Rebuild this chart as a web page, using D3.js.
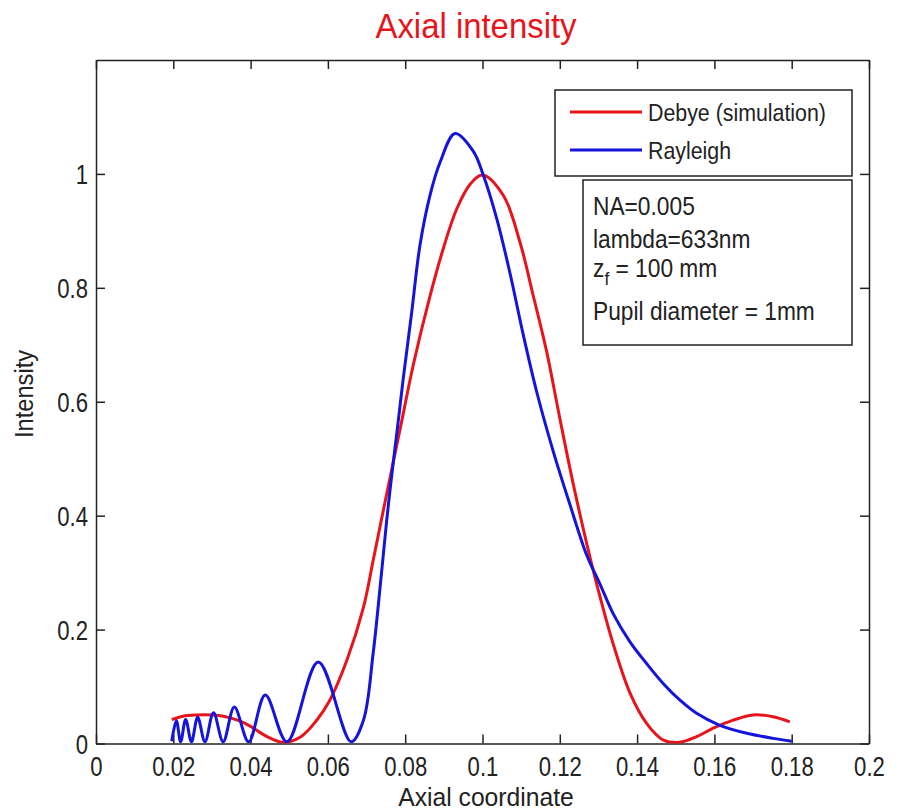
<!DOCTYPE html>
<html>
<head>
<meta charset="utf-8">
<script src="https://cdn.jsdelivr.net/npm/d3@7"></script>
<style>
  body { margin: 0; background: #fff; }
  text { font-family: "Liberation Sans", Arial, sans-serif; fill: #222; }
</style>
</head>
<body>
<div id="chart"></div>
<script>
// values
var debyeX = [0.0196, 0.0225, 0.0260, 0.0300, 0.0330, 0.0370, 0.0400, 0.0440, 0.0484, 0.0530,
  0.0570, 0.0605, 0.0649, 0.0692, 0.0717, 0.0743, 0.0791, 0.0821, 0.0864, 0.0899,
  0.0933, 0.0968, 0.1000, 0.1054, 0.1097, 0.1131, 0.1166, 0.1200, 0.1235, 0.1270,
  0.1300, 0.1338, 0.1382, 0.1425, 0.1468, 0.1510, 0.1554, 0.1597, 0.1649, 0.1700,
  0.1752, 0.1795];
var debyeY = [0.042, 0.048, 0.050, 0.050, 0.048, 0.040, 0.030, 0.013, 0.002, 0.012,
  0.040, 0.076, 0.146, 0.239, 0.321, 0.408, 0.566, 0.665, 0.785, 0.870,
  0.938, 0.982, 0.998, 0.962, 0.880, 0.787, 0.688, 0.571, 0.455, 0.350,
  0.268, 0.175, 0.088, 0.035, 0.006, 0.002, 0.012, 0.027, 0.041, 0.050,
  0.047, 0.038];

var rayleighX = [0.0196, 0.0208, 0.0219, 0.0232, 0.0247, 0.0263, 0.0282, 0.0304, 0.0329, 0.0358,
  0.0395, 0.0438, 0.0494, 0.0575, 0.0660, 0.0692, 0.0717, 0.0735, 0.0752, 0.0765,
  0.0782, 0.0795, 0.0817, 0.0838, 0.0864, 0.0890, 0.0929, 0.0976, 0.1002, 0.1037,
  0.1071, 0.1106, 0.1140, 0.1183, 0.1226, 0.1270, 0.1304, 0.1338, 0.1382, 0.1425,
  0.1468, 0.1511, 0.1554, 0.1614, 0.1684, 0.1752, 0.1800];
var rayleighY = [0.004, 0.040, 0.003, 0.042, 0.003, 0.046, 0.003, 0.054, 0.003, 0.064,
  0.003, 0.085, 0.003, 0.143, 0.003, 0.041, 0.158, 0.274, 0.391, 0.470,
  0.566, 0.641, 0.758, 0.874, 0.962, 1.020, 1.071, 1.040, 0.998, 0.921,
  0.826, 0.716, 0.618, 0.513, 0.420, 0.330, 0.280, 0.228, 0.178, 0.140,
  0.105, 0.076, 0.053, 0.032, 0.018, 0.009, 0.004];

var xTicks = [0, 0.02, 0.04, 0.06, 0.08, 0.1, 0.12, 0.14, 0.16, 0.18, 0.2];
var xTickLabels = ["0", "0.02", "0.04", "0.06", "0.08", "0.1", "0.12", "0.14", "0.16", "0.18", "0.2"];
var yTicks = [0, 0.2, 0.4, 0.6, 0.8, 1];
var yTickLabels = ["0", "0.2", "0.4", "0.6", "0.8", "1"];

var seriesNames = ["Debye (simulation)", "Rayleigh"];
var seriesColors = ["#e8141c", "#1414dc"];
var noteLines = ["NA=0.005", "lambda=633nm", "z_f = 100 mm", "Pupil diameter = 1mm"];

// dimensions
var W = 899, H = 812;
var margin = {top: 60, right: 30, bottom: 68.5, left: 96},
  width = W - margin.left - margin.right,
  height = H - margin.top - margin.bottom;

var svg = d3.select("#chart").append("svg")
  .attr("width", W)
  .attr("height", H);

svg.append("clipPath").attr("id", "plot-clip")
  .append("rect").attr("width", width).attr("height", height);

var g = svg.append("g")
  .attr("transform", "translate(" + margin.left + "," + margin.top + ")");

var x = d3.scaleLinear().domain([0, 0.2]).range([0, width]);
var y = d3.scaleLinear().domain([0, 1.2]).range([height, 0]);

var sx = 0.82; // tick labels are narrow

// bottom axis
var xAxis = g.append("g")
  .attr("transform", "translate(0," + height + ")")
  .call(d3.axisBottom(x).tickValues(xTicks)
    .tickFormat(function(d, i) { return xTickLabels[i]; })
    .tickSizeInner(-9).tickSizeOuter(0).tickPadding(13));
xAxis.selectAll("text")
  .attr("transform", "scale(" + sx + ",1)")
  .style("font-size", "27px");

// top axis (ticks only)
g.append("g")
  .call(d3.axisTop(x).tickValues(xTicks).tickFormat("")
    .tickSizeInner(-9).tickSizeOuter(0));

// left axis
var yAxis = g.append("g")
  .call(d3.axisLeft(y).tickValues(yTicks)
    .tickFormat(function(d, i) { return yTickLabels[i]; })
    .tickSizeInner(-9).tickSizeOuter(0));
yAxis.selectAll("text")
  .attr("x", -8 / sx)
  .attr("dy", "0.36em")
  .attr("transform", "scale(" + sx + ",1)")
  .style("font-size", "27px");

// right axis (ticks only)
g.append("g")
  .attr("transform", "translate(" + width + ",0)")
  .call(d3.axisRight(y).tickValues(yTicks).tickFormat("")
    .tickSizeInner(-9).tickSizeOuter(0));

g.selectAll(".domain, .tick line")
  .attr("stroke", "#222")
  .attr("stroke-width", 1.5);

// curves
var line = d3.line()
  .x(function(d) { return x(d[0]); })
  .y(function(d) { return y(d[1]); })
  .curve(d3.curveCatmullRom.alpha(0.5));

var debye = d3.zip(debyeX, debyeY);
var rayleigh = d3.zip(rayleighX, rayleighY);

var curves = g.append("g").attr("clip-path", "url(#plot-clip)");

curves.append("path")
  .datum(debye)
  .attr("fill", "none")
  .attr("stroke", seriesColors[0])
  .attr("stroke-width", 3)
  .attr("d", line);

curves.append("path")
  .datum(rayleigh)
  .attr("fill", "none")
  .attr("stroke", seriesColors[1])
  .attr("stroke-width", 3)
  .attr("d", line);

// title and axis labels
svg.append("text")
  .attr("transform", "translate(476,38) scale(0.94,1)")
  .attr("text-anchor", "middle")
  .style("font-size", "35px")
  .style("fill", "#e8141c")
  .text("Axial intensity");

svg.append("text")
  .attr("transform", "translate(486,806) scale(0.95,1)")
  .attr("text-anchor", "middle")
  .style("font-size", "26px")
  .text("Axial coordinate");

svg.append("text")
  .attr("transform", "translate(33,394) rotate(-90) scale(0.91,1)")
  .attr("text-anchor", "middle")
  .style("font-size", "26px")
  .text("Intensity");

// legend
var legend = svg.append("g");
legend.append("rect")
  .attr("x", 555).attr("y", 90)
  .attr("width", 297).attr("height", 86)
  .attr("fill", "#fff")
  .attr("stroke", "#222")
  .attr("stroke-width", 1.5);

seriesNames.forEach(function(name, i) {
  var ly = 112 + i * 38;
  legend.append("line")
    .attr("x1", 570).attr("x2", 642)
    .attr("y1", ly).attr("y2", ly)
    .attr("stroke", seriesColors[i])
    .attr("stroke-width", 3);
  legend.append("text")
    .attr("transform", "translate(648," + (ly + 9) + ") scale(0.89,1)")
    .style("font-size", "24px")
    .text(name);
});

// annotation box
var note = svg.append("g");
note.append("rect")
  .attr("x", 583).attr("y", 180)
  .attr("width", 269).attr("height", 165)
  .attr("fill", "#fff")
  .attr("stroke", "#222")
  .attr("stroke-width", 1.5);

var noteY = [215, 248, 277, 320];
noteLines.forEach(function(s, i) {
  var t = note.append("text")
    .attr("transform", "translate(593," + noteY[i] + ") scale(0.91,1)")
    .style("font-size", "25px");
  if (s.indexOf("z_f") === 0) {
    t.append("tspan").text("z");
    t.append("tspan").attr("dy", 8).style("font-size", "19px").text("f");
    t.append("tspan").attr("dy", -8).text(s.slice(3));
  } else {
    t.text(s);
  }
});
</script>
</body>
</html>
